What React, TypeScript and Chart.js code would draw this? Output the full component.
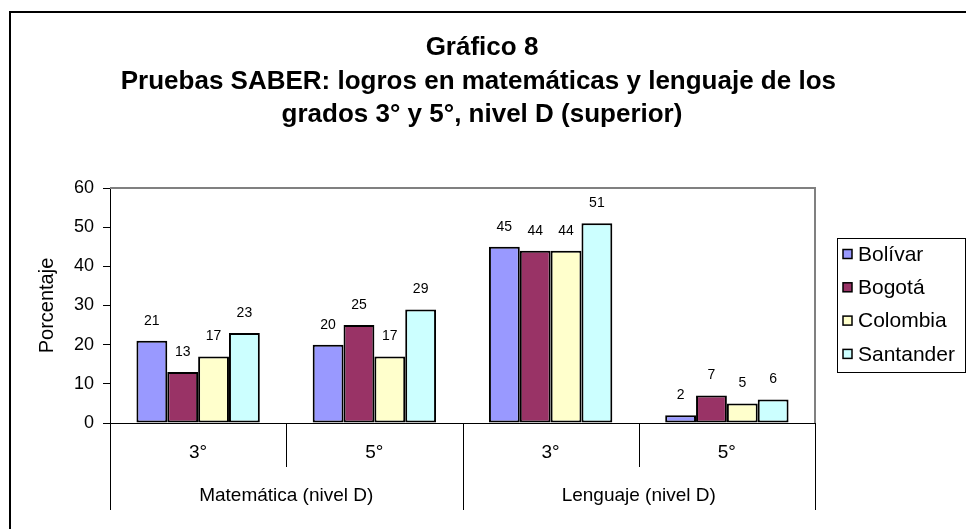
import React, { useEffect, useRef } from "react";
import { Chart, registerables } from "chart.js";

Chart.register(...registerables);

const titleLines = [
  "Gráfico 8",
  "Pruebas SABER: logros en matemáticas y lenguaje de los ",
  "grados 3° y 5°, nivel D (superior)",
];
const grades = ["3°", "5°", "3°", "5°"];
const groups = ["Matemática (nivel D)", "Lenguaje (nivel D)"];
const groupSizes = [2, 2];
const seriesNames = ["Bolívar", "Bogotá", "Colombia", "Santander"];
const bolivar = [21, 20, 45, 2];
const bogota = [13, 25, 44, 7];
const colombia = [17, 17, 44, 5];
const santander = [23, 29, 51, 6];
const seriesColors = ["#9999FF", "#993366", "#FFFFCC", "#CCFFFF"];
const yMin = 0;
const yMax = 60;
const yStep = 10;
const yTitle = "Porcentaje";

const FONT = "Arial, 'Liberation Sans', sans-serif";

const decorPlugin = {
  id: "decor",
  afterDraw(chart: any) {
    const ctx = chart.ctx as CanvasRenderingContext2D;
    const area = chart.chartArea;
    const xs = chart.scales.x;
    ctx.save();

    // outer border
    ctx.strokeStyle = "#000";
    ctx.lineWidth = 2;
    ctx.strokeRect(10, 12, 2000, 2000);

    // title
    ctx.fillStyle = "#000";
    ctx.textAlign = "center";
    ctx.textBaseline = "middle";
    ctx.font = `bold 26px ${FONT}`;
    titleLines.forEach((t, i) => ctx.fillText(t, 482, 48 + i * 33.5));

    // plot area border (top, right)
    ctx.strokeStyle = "#808080";
    ctx.lineWidth = 2;
    ctx.beginPath();
    ctx.moveTo(area.left, area.top);
    ctx.lineTo(area.right, area.top);
    ctx.lineTo(area.right, area.bottom);
    ctx.stroke();

    // category separators (two-level axis)
    const n = grades.length;
    const cw = (area.right - area.left) / n;
    const edge = (i: number) => xs.getPixelForValue(i) - cw / 2;
    ctx.strokeStyle = "#000";
    ctx.lineWidth = 1;
    let idx = 0;
    const groupEdges: number[] = [0];
    groupSizes.forEach((s) => {
      idx += s;
      groupEdges.push(idx);
    });
    for (let i = 0; i <= n; i++) {
      const isGroup = groupEdges.includes(i);
      const x = Math.round(i === n ? area.right : edge(i)) + 0.5;
      ctx.beginPath();
      ctx.moveTo(x, area.bottom);
      ctx.lineTo(x, isGroup ? 510 : 467);
      ctx.stroke();
    }
    // group labels
    ctx.fillStyle = "#000";
    ctx.font = `19px ${FONT}`;
    ctx.textAlign = "center";
    ctx.textBaseline = "middle";
    for (let g = 0; g < groups.length; g++) {
      const a = groupEdges[g];
      const b = groupEdges[g + 1];
      const x0 = edge(a);
      const x1 = b === n ? area.right : edge(b);
      ctx.fillText(groups[g], (x0 + x1) / 2, 496);
    }

    // legend
    const lx = 837;
    const ly = 238;
    ctx.strokeStyle = "#000";
    ctx.lineWidth = 1;
    ctx.strokeRect(lx + 0.5, ly + 0.5, 128, 134);
    ctx.font = `21px ${FONT}`;
    ctx.textAlign = "left";
    chart.data.datasets.forEach((ds: any, i: number) => {
      const cy = 254 + i * 33.3;
      ctx.fillStyle = ds.backgroundColor;
      ctx.fillRect(843, cy - 4.5, 9, 9);
      ctx.lineWidth = 1.5;
      ctx.strokeStyle = "#000";
      ctx.strokeRect(843, cy - 4.5, 9, 9);
      ctx.fillStyle = "#000";
      ctx.fillText(ds.label, 858, cy + 1);
    });
    ctx.restore();
  },
  afterDatasetsDraw(chart: any) {
    const ctx = chart.ctx as CanvasRenderingContext2D;
    ctx.save();
    ctx.fillStyle = "#000";
    ctx.font = `14px ${FONT}`;
    ctx.textAlign = "center";
    ctx.textBaseline = "bottom";
    chart.data.datasets.forEach((ds: any, i: number) => {
      const meta = chart.getDatasetMeta(i);
      meta.data.forEach((el: any, j: number) => {
        ctx.fillText(String(ds.data[j]), el.x, el.y - 13);
      });
    });
    ctx.restore();
  },
};

export default function App() {
  const ref = useRef<HTMLCanvasElement | null>(null);
  useEffect(() => {
    document.body.style.margin = "0";
    const canvas = ref.current;
    if (!canvas) return;
    const values = [bolivar, bogota, colombia, santander];
    const chart = new Chart(canvas, {
      type: "bar",
      data: {
        labels: grades,
        datasets: seriesNames.map((name, i) => ({
          label: name,
          data: values[i],
          backgroundColor: seriesColors[i],
          borderColor: "#000",
          borderWidth: 2,
          borderSkipped: false,
          categoryPercentage: 0.7,
          barPercentage: 1,
        })),
      },
      options: {
        responsive: false,
        animation: false,
        devicePixelRatio: 1,
        layout: { padding: { top: 188, right: 151, left: 0, bottom: 0 } },
        plugins: {
          legend: { display: false },
          title: { display: false },
          tooltip: { enabled: false },
        },
        scales: {
          x: {
            grid: { display: false, drawTicks: false },
            border: { display: true, color: "#000", width: 1 },
            ticks: { color: "#000", font: { family: FONT, size: 19 }, padding: 18, maxRotation: 0 },
            afterFit: (s: any) => {
              s.height = 106;
            },
          },
          y: {
            min: yMin,
            max: yMax,
            grid: { drawOnChartArea: false, drawTicks: true, tickLength: 7, color: "#000" },
            border: { display: true, color: "#000", width: 1 },
            ticks: { stepSize: yStep, color: "#000", font: { family: FONT, size: 18 }, padding: 9 },
            title: {
              display: true,
              text: yTitle,
              color: "#000",
              font: { family: FONT, size: 20 },
              padding: { top: 35, bottom: 0 },
            },
            afterFit: (s: any) => {
              s.width = 110;
            },
          },
        },
      },
      plugins: [decorPlugin],
    });
    return () => chart.destroy();
  }, []);
  return (
    <div style={{ width: 966, height: 529, background: "#fff" }}>
      <canvas ref={ref} width={966} height={529} style={{ width: 966, height: 529, display: "block" }} />
    </div>
  );
}
